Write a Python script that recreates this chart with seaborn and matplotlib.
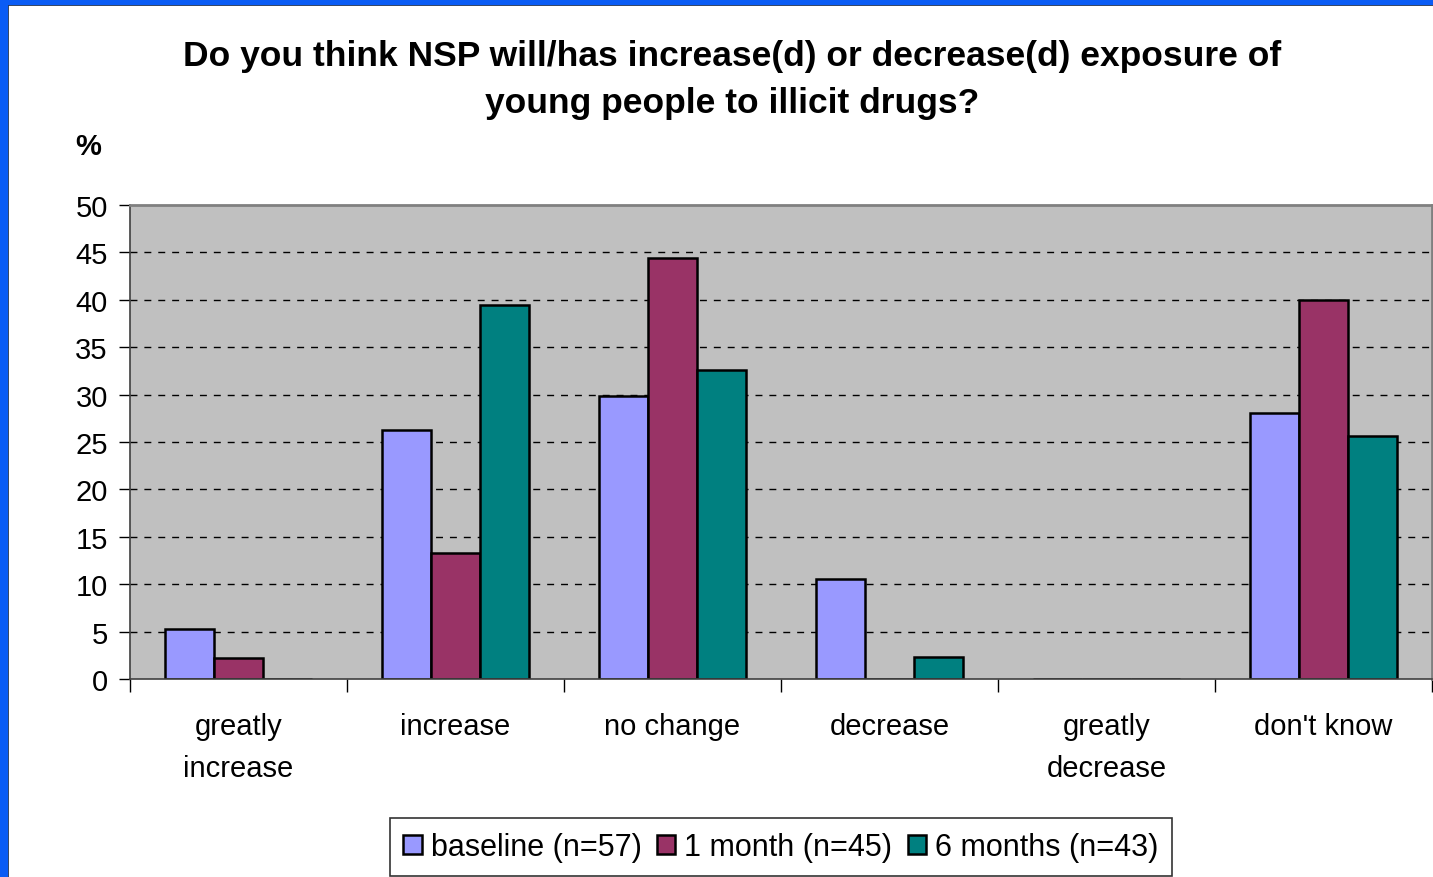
import numpy as np
import pandas as pd
import seaborn as sns
import matplotlib.pyplot as plt
from matplotlib.patches import Rectangle
from matplotlib.ticker import FixedLocator

categories = ["greatly\nincrease", "increase", "no change", "decrease", "greatly\ndecrease", "don't know"]
series = ["baseline (n=57)", "1 month (n=45)", "6 months (n=43)"]
baseline = [5.3, 26.3, 29.8, 10.5, 0.0, 28.1]
month1 = [2.2, 13.3, 44.4, 0.0, 0.0, 40.0]
month6 = [0.0, 39.5, 32.6, 2.3, 0.0, 25.6]
colors = ["#9999FF", "#993366", "#008080"]

df = pd.DataFrame({
    "category": categories * 3,
    "series": np.repeat(series, len(categories)),
    "value": baseline + month1 + month6,
})

sns.set_style("white")
plt.rcParams["font.family"] = ["Liberation Sans", "DejaVu Sans"]
plt.rcParams["text.color"] = "black"
plt.rcParams["xtick.color"] = "black"
plt.rcParams["ytick.color"] = "black"

fig = plt.figure(figsize=(14.33, 8.78), dpi=100)
ax = fig.add_axes([130 / 1433, 1 - 680 / 878, 1302 / 1433, 474 / 878])
ax.set_facecolor("#C0C0C0")

sns.barplot(
    data=df, x="category", y="value", hue="series", order=categories,
    hue_order=series, palette=colors, saturation=1, width=0.68, gap=0,
    edgecolor="black", linewidth=1.8, ax=ax, legend=True,
)

ax.set_ylim(0, 50)
ax.set_xlim(-0.5, 5.5)
ax.set_yticks(range(0, 51, 5))
ax.tick_params(axis="y", labelsize=21, length=8, width=1, direction="out", pad=8, left=True)
ax.tick_params(axis="x", which="major", length=0, labelsize=21, pad=24)
ax.xaxis.set_minor_locator(FixedLocator(np.arange(-0.5, 6, 1)))
ax.tick_params(axis="x", which="minor", length=9, width=1, direction="out", bottom=True)
for y in range(5, 50, 5):
    ax.axhline(y, color="black", linestyle=(0, (5, 5)), linewidth=1, zorder=0.5)
ax.set_xlabel("")
ax.set_ylabel("")
for s in ["top", "right"]:
    ax.spines[s].set_color("#808080")
    ax.spines[s].set_linewidth(2)
for s in ["left", "bottom"]:
    ax.spines[s].set_color("#404040")
    ax.spines[s].set_linewidth(1.2)
for lbl in ax.get_xticklabels():
    lbl.set_linespacing(1.6)

handles, labels = ax.get_legend_handles_labels()
ax.get_legend().remove()
fig.legend(
    handles, labels, loc="center", bbox_to_anchor=(781 / 1433, 1 - 848 / 878),
    ncol=3, fontsize=22, frameon=True, fancybox=False, edgecolor="black",
    handlelength=0.6, handleheight=0.6, handletextpad=0.3, columnspacing=0.5,
    borderpad=0.45,
)
fig.legends[0].get_frame().set_linewidth(1.2)

fig.text(732 / 1433, 1 - 80 / 878,
         "Do you think NSP will/has increase(d) or decrease(d) exposure of\nyoung people to illicit drugs?",
         ha="center", va="center", fontsize=25.5, fontweight="bold", linespacing=1.55)
fig.text(88 / 1433, 1 - 147 / 878, "%", ha="center", va="center", fontsize=21, fontweight="bold")

# blue slide border on left and top
fig.patches.append(Rectangle((0, 0), 7 / 1433, 1, transform=fig.transFigure, color="#0A5CF5", zorder=5))
fig.patches.append(Rectangle((0, 1 - 5 / 878), 1, 5 / 878, transform=fig.transFigure, color="#0A5CF5", zorder=5))
fig.add_artist(plt.Line2D([7.5 / 1433, 7.5 / 1433], [0, 1 - 5 / 878], transform=fig.transFigure, color="#202020", lw=1.2))
fig.add_artist(plt.Line2D([7.5 / 1433, 1], [1 - 5.5 / 878, 1 - 5.5 / 878], transform=fig.transFigure, color="#202020", lw=1.2))

fig.savefig("out.png", dpi=100)
